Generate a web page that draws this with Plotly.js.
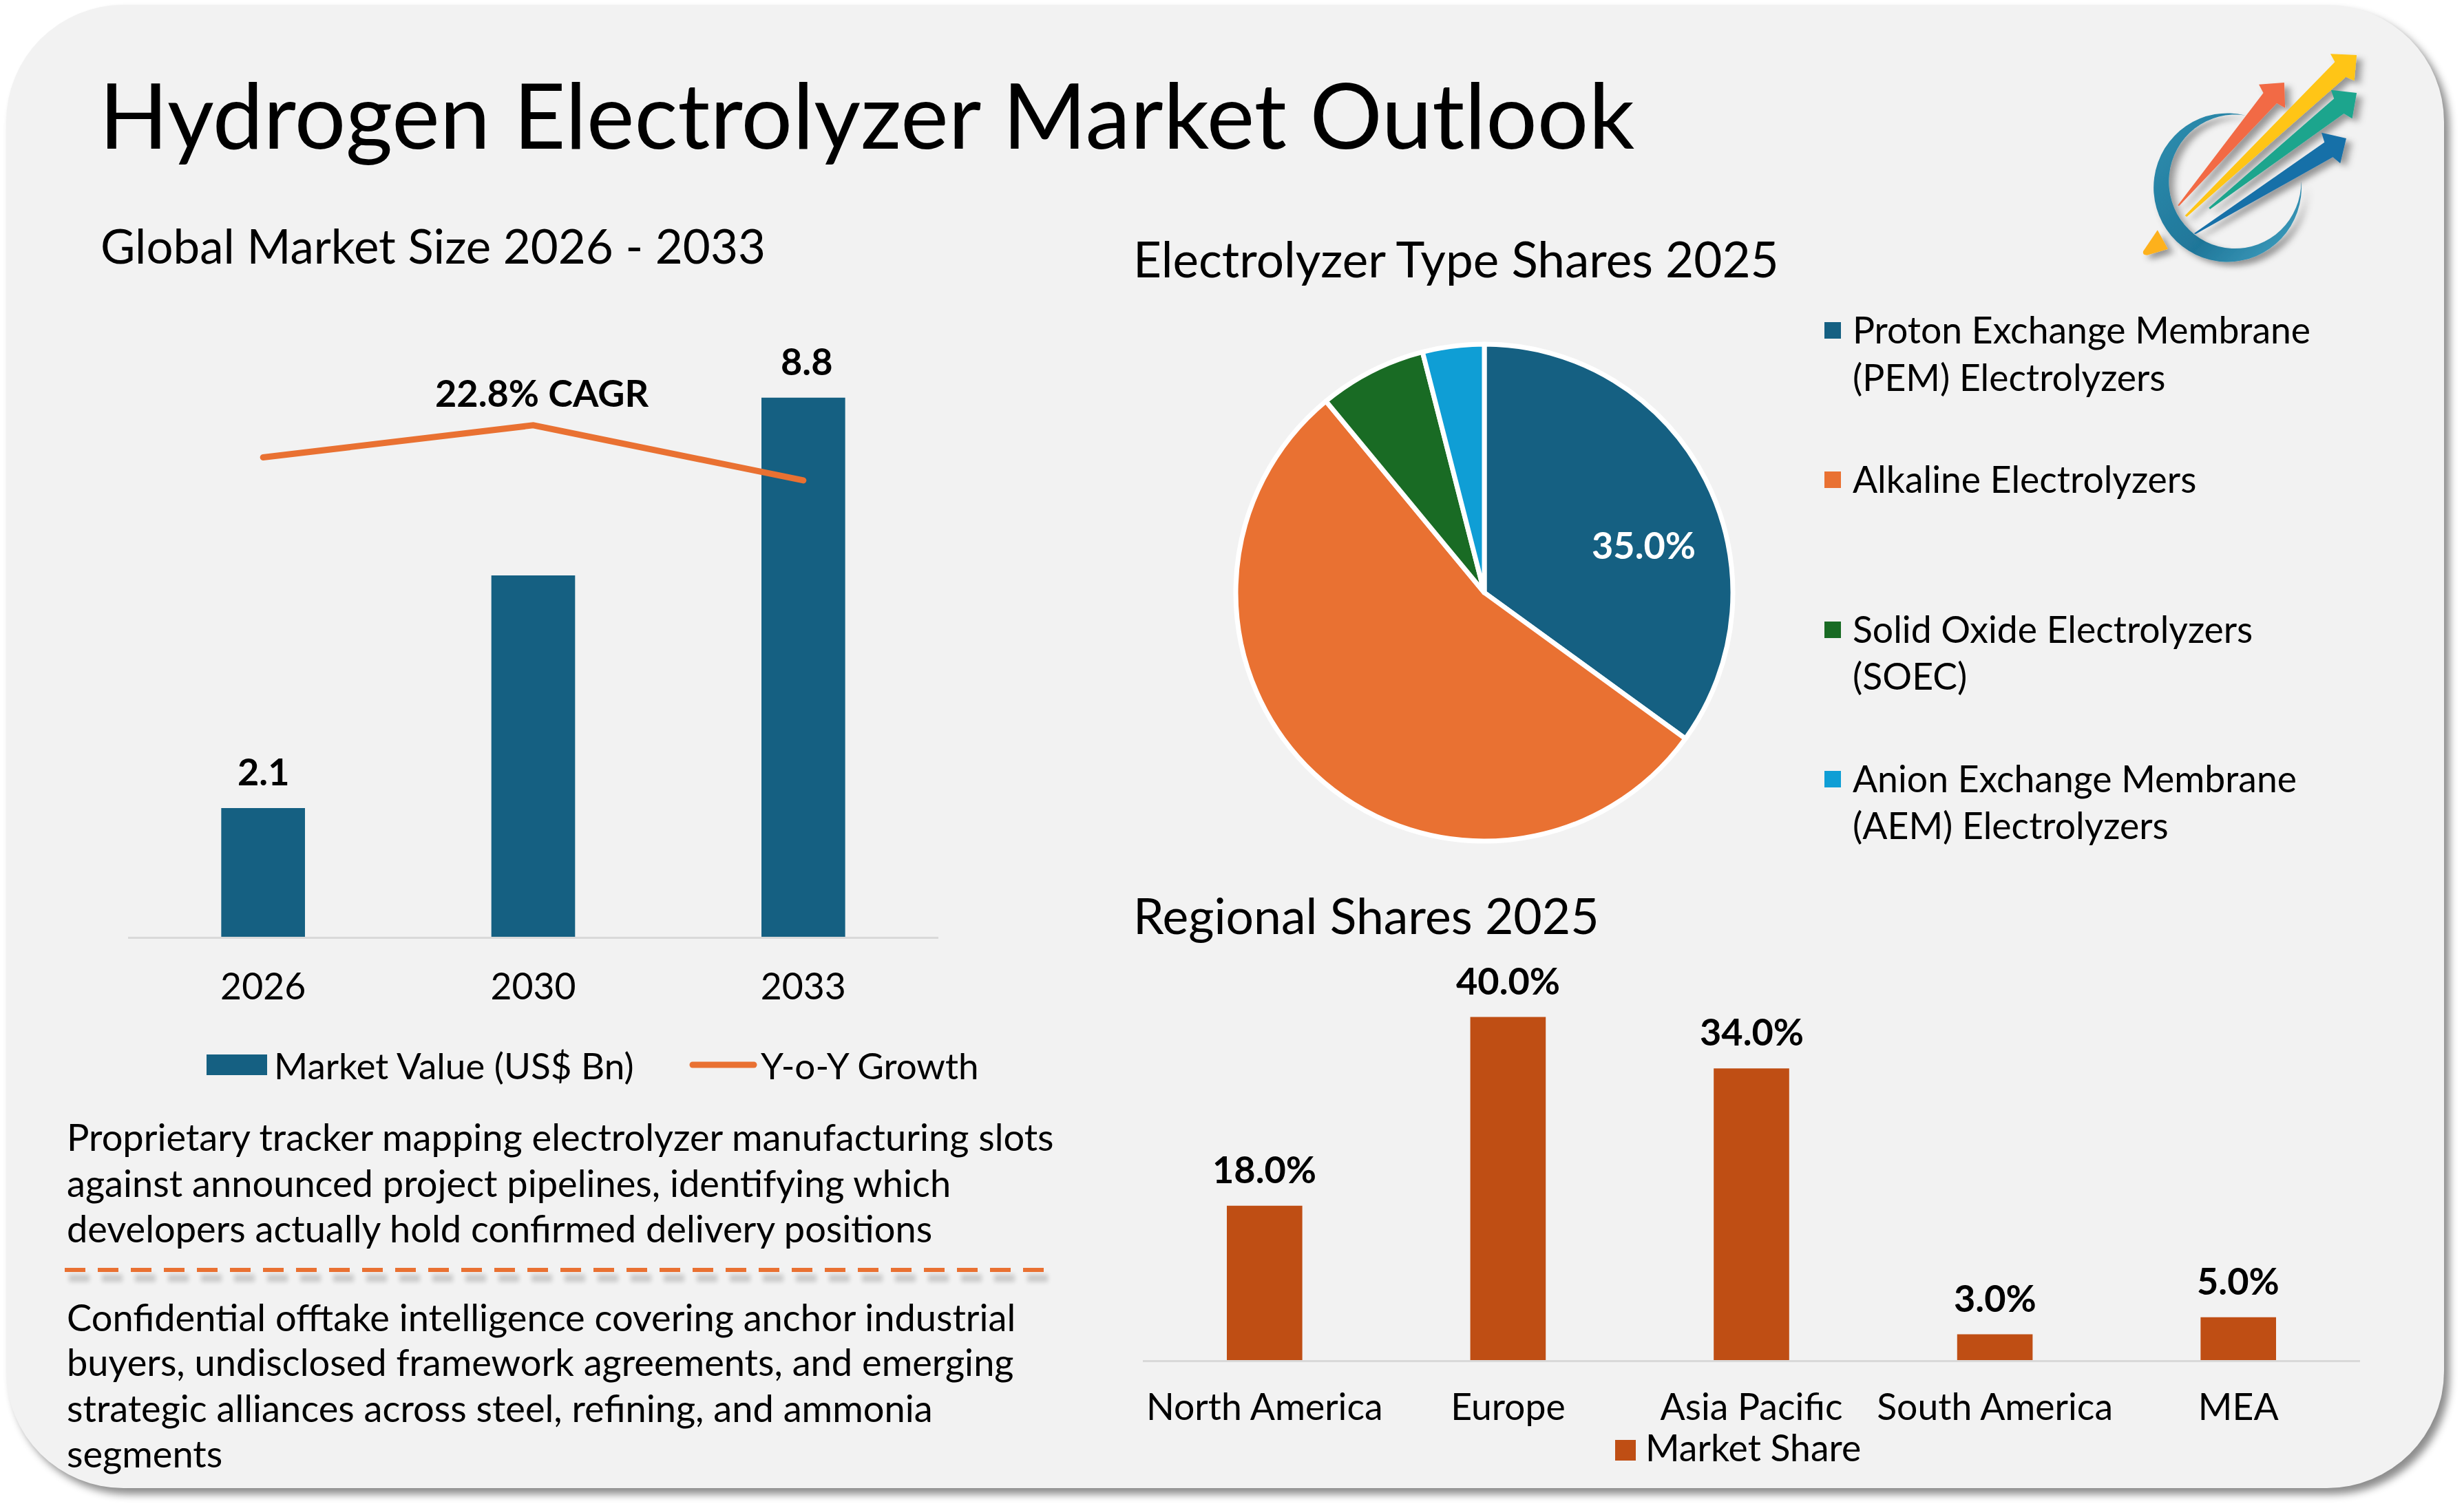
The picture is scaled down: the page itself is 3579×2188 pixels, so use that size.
<!DOCTYPE html>
<html><head><meta charset="utf-8">
<script src="https://cdn.plot.ly/plotly-3.0.1.min.js"></script>
<style>
html,body{margin:0;padding:0;background:#fff;width:3579px;height:2188px;overflow:hidden}
#card{position:absolute;left:9px;top:7px;width:3541px;height:2155px;background:#F2F2F2;border-radius:170px;box-shadow:8px 9px 12px rgba(0,0,0,.45)}
#logo{position:absolute;left:2900px;top:0;width:679px;height:450px}
#chart{position:absolute;left:0;top:0;width:3579px;height:2188px}
</style></head><body>
<div id="card"></div>
<svg id="logo" viewBox="0 0 1568 1350" preserveAspectRatio="none">
<defs>
<filter id="sh" x="-30%" y="-30%" width="170%" height="170%"><feDropShadow dx="18" dy="18" stdDeviation="12" flood-color="#000" flood-opacity=".38"/></filter>
<linearGradient id="ring" x1="0" y1="0" x2="1" y2="1"><stop offset="0" stop-color="#2F8FB0"/><stop offset=".6" stop-color="#1F7699"/><stop offset="1" stop-color="#45A6C6"/></linearGradient>
</defs>
<path filter="url(#sh)" fill="url(#ring)" d="M835,503 A248,324 0 1 0 1022,790 A222,292 0 1 1 835,503 Z"/>
<path filter="url(#sh)" fill="#FDB11E" d="M540,1003 L575,1085 L505,1112 Q488,1112 492,1095 Z"/>
<path filter="url(#sh)" fill="#F26A45" d="M608,895 L895,405 L880,368 L965,360 L968,470 L940,450 L612,898 Z"/>
<path filter="url(#sh)" fill="#FFC512" d="M632,940 L1135,270 L1120,235 L1208,240 L1200,352 L1172,335 L638,945 Z"/>
<path filter="url(#sh)" fill="#1DA58D" d="M712,905 L1132,430 L1122,392 L1208,405 L1193,517 L1165,495 L716,912 Z"/>
<path filter="url(#sh)" fill="#176FA8" d="M662,1018 L1100,620 L1090,578 L1173,603 L1153,712 L1128,685 L668,1020 Z"/>
</svg>
<div id="chart"></div>
<script>
var W = 3579, H = 2188;
var FONT = 'Lato, sans-serif';
var BLUE = '#156082', ORANGE = '#E97132', GREEN = '#196B24', SKY = '#0F9ED5', RUST = '#BF4E14';

var years = ['2026', '2030', '2033'];
var marketValue = [2.1, 5.9, 8.8];
var marketLabels = ['2.1', '', '8.8'];
var yoyGrowth = [31.3, 33.4, 29.8];

var typeNames = ['Proton Exchange Membrane (PEM) Electrolyzers', 'Alkaline Electrolyzers', 'Solid Oxide Electrolyzers (SOEC)', 'Anion Exchange Membrane (AEM) Electrolyzers'];
var typeShares = [35, 54, 7, 4];
var typeColors = [BLUE, ORANGE, GREEN, SKY];

var regions = ['North America', 'Europe', 'Asia Pacific', 'South America', 'MEA'];
var regionShares = [18, 40, 34, 3, 5];
var regionLabels = ['18.0%', '40.0%', '34.0%', '3.0%', '5.0%'];

var bodyTop = ['Proprietary tracker mapping electrolyzer manufacturing slots', 'against announced project pipelines, identifying which', 'developers actually hold confirmed delivery positions'];
var bodyBottom = ['Confidential offtake intelligence covering anchor industrial', 'buyers, undisclosed framework agreements, and emerging', 'strategic alliances across steel, refining, and ammonia', 'segments'];

function px(x) { return x / W; }
function py(y) { return 1 - y / H; }
function txt(t, x, y, size, opt) {
  opt = opt || {};
  return { text: t, xref: 'paper', yref: 'paper', x: px(x), y: py(y), xanchor: opt.anchor || 'left', yanchor: 'middle',
    showarrow: false, font: { family: FONT, size: size, color: opt.color || '#000', weight: opt.weight || 400 } };
}
function barLabel(t, xi, yv, xr, yr, xs) {
  return { text: t, xref: xr, yref: yr, x: xi, y: yv, xanchor: 'center', yanchor: 'bottom', yshift: 19, xshift: xs || 0,
    showarrow: false, font: { family: FONT, size: LAB, color: '#000', weight: 700 } };
}
function rect(x0, y0, x1, y1, c) {
  return { type: 'rect', xref: 'paper', yref: 'paper', x0: px(x0), x1: px(x1), y0: py(y0), y1: py(y1), fillcolor: c, line: { width: 0 } };
}
var BODY = 54.2, LEG = 53.5, TICK = 53.5, LAB = 54;

var annotations = [
  txt('Hydrogen Electrolyzer Market Outlook', 142, 165, 131.5),
  txt('Global Market Size 2026 - 2033', 144, 356, 69),
  txt('Electrolyzer Type Shares 2025', 1644, 375, 71),
  txt('Regional Shares 2025', 1644, 1329, 71.5),
  txt('22.8% CAGR', 787, 571, LAB, { anchor: 'center', weight: 700 }),
  txt('35.0%', 2387, 791, LAB, { anchor: 'center', weight: 700, color: '#fff' }),
  txt('Market Value (US$ Bn)', 396, 1547, 53),
  txt('Y-o-Y Growth', 1103, 1547, 53),
  txt('Market Share', 2388, 2102, LEG),
  txt('Proton Exchange Membrane', 2689, 478, LEG),
  txt('(PEM) Electrolyzers', 2689, 547, LEG),
  txt(typeNames[1], 2689, 695, LEG),
  txt('Solid Oxide Electrolyzers', 2689, 913, LEG),
  txt('(SOEC)', 2689, 981, LEG),
  txt('Anion Exchange Membrane', 2689, 1130, LEG),
  txt('(AEM) Electrolyzers', 2689, 1198, LEG)
];
var topY = [1651, 1718, 1784], botY = [1913, 1978, 2045, 2111];
bodyTop.forEach(function (l, i) { annotations.push(txt(l, 95, topY[i], BODY)); });
bodyBottom.forEach(function (l, i) { annotations.push(txt(l, 95, botY[i], BODY)); });
years.forEach(function (y, i) { if (marketLabels[i]) annotations.push(barLabel(marketLabels[i], i, marketValue[i], 'x', 'y', i === 2 ? 5 : 0)); });
regions.forEach(function (r, i) { annotations.push(barLabel(regionLabels[i], i, regionShares[i], 'x2', 'y3')); });

var shapes = [
  rect(300, 1532, 388, 1562, BLUE),
  { type: 'line', xref: 'paper', yref: 'paper', x0: px(1006), x1: px(1095), y0: py(1547), y1: py(1547), line: { color: ORANGE, width: 9 } },
  rect(2346, 2092, 2376, 2122, RUST),
  rect(2650, 468, 2674, 492, BLUE),
  rect(2650, 685, 2674, 709, ORANGE),
  rect(2650, 903, 2674, 927, GREEN),
  rect(2650, 1120, 2674, 1144, SKY),
  { type: 'line', xref: 'paper', yref: 'paper', x0: px(100), x1: px(1522), y0: py(1857), y1: py(1857), opacity: .16, line: { color: '#000', width: 11, dash: '30px,18px' } },
  { type: 'line', xref: 'paper', yref: 'paper', x0: px(94), x1: px(1516), y0: py(1845), y1: py(1845), line: { color: ORANGE, width: 6, dash: '30px,18px' } }
];

var data = [
  { type: 'bar', name: 'Market Value (US$ Bn)', x: years, y: marketValue, xaxis: 'x', yaxis: 'y', marker: { color: BLUE } },
  { type: 'scatter', mode: 'lines', name: 'Y-o-Y Growth', x: years, y: yoyGrowth, xaxis: 'x', yaxis: 'y2', line: { color: ORANGE, width: 9 } },
  { type: 'pie', name: 'Electrolyzer Type Shares 2025', labels: typeNames, values: typeShares, sort: false, direction: 'clockwise', rotation: 0,
    marker: { colors: typeColors, line: { color: '#fff', width: 7 } }, textinfo: 'none', domain: { x: [px(1795), px(2517)], y: [py(1222), py(500)] } },
  { type: 'bar', name: 'Market Share', x: regions, y: regionShares, xaxis: 'x2', yaxis: 'y3', marker: { color: RUST } }
];

function xa(d, standoff) {
  return { domain: d, type: 'category', showgrid: false, zeroline: false, showline: true, linecolor: '#D9D9D9', linewidth: 3, ticks: '', ticklabelstandoff: standoff,
    tickfont: { family: FONT, size: TICK, color: '#000' }, fixedrange: true };
}
var layout = {
  width: W, height: H, margin: { l: 0, r: 0, t: 0, b: 0 }, paper_bgcolor: 'rgba(0,0,0,0)', plot_bgcolor: 'rgba(0,0,0,0)',
  showlegend: false, bargap: 0.69,
  xaxis: Object.assign(xa([px(186), px(1363)], 24), { anchor: 'y', categoryorder: 'array', categoryarray: years }),
  yaxis: { domain: [py(1361), py(471)], range: [0, 10], visible: false, fixedrange: true },
  yaxis2: { domain: [py(1361), py(471)], range: [0, 40], visible: false, overlaying: 'y', fixedrange: true },
  xaxis2: Object.assign(xa([px(1660), px(3428)], 20), { anchor: 'y3', categoryorder: 'array', categoryarray: regions }),
  yaxis3: { domain: [py(1976), py(1353)], range: [0, 50], visible: false, fixedrange: true },
  annotations: annotations, shapes: shapes
};
Plotly.newPlot('chart', data, layout, { displayModeBar: false, staticPlot: true }).then(function () {
  document.querySelectorAll('.js-line').forEach(function (p) { p.style.strokeLinecap = 'round'; });
  document.querySelectorAll('.shapelayer path').forEach(function (p) {
    var cs = getComputedStyle(p);
    if (parseFloat(cs.opacity) < 0.5) p.style.filter = 'blur(3px)';
    if (cs.stroke && !cs.strokeDasharray.match(/\d/) ) p.style.strokeLinecap = 'round';
  });
});
</script>
</body></html>
